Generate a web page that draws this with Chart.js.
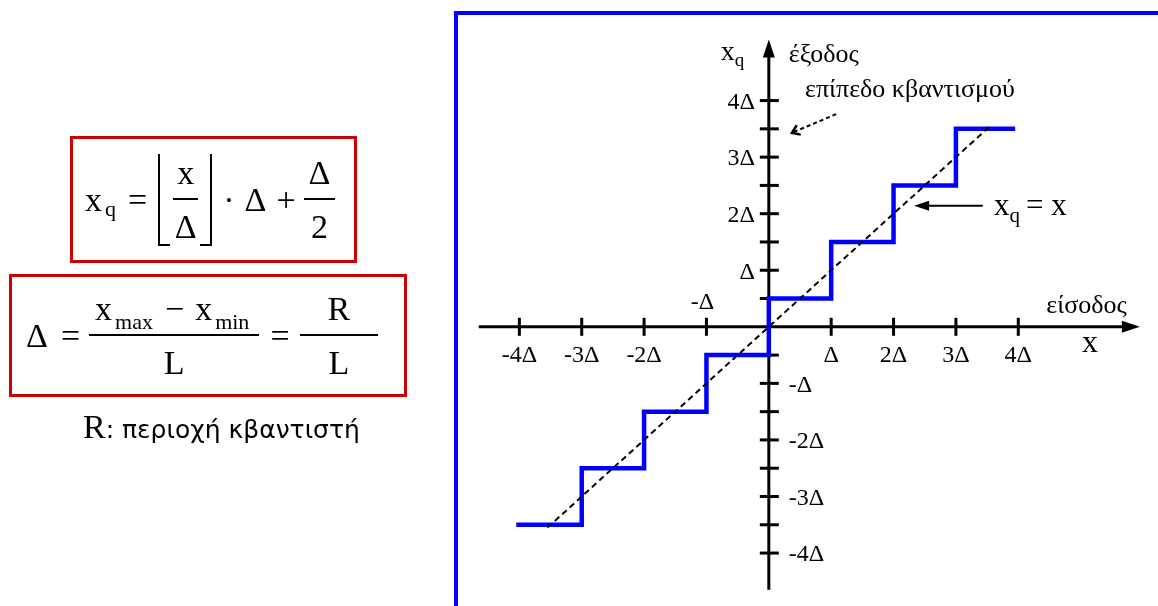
<!DOCTYPE html>
<html>
<head>
<meta charset="utf-8">
<script src="https://cdn.jsdelivr.net/npm/chart.js@4.4.0/dist/chart.umd.min.js"></script>
<style>
  html, body { margin: 0; padding: 0; background: #fff; }
  body { width: 1158px; height: 606px; position: relative; overflow: hidden; }
  #plot { position: absolute; left: 0; top: 0; }
  #frame { position: absolute; left: 454px; top: 11px; width: 720px; height: 620px;
           border-top: 4px solid #0000ff; border-left: 4px solid #0000ff; box-sizing: border-box; }
  .box { position: absolute; border: 3px solid #cc0000; display: flex; align-items: center;
         justify-content: flex-start; font-family: "Liberation Serif", serif; font-size: 34px; color: #000; }
  .math { display: flex; align-items: center; line-height: 1; white-space: nowrap; }
  .sub { font-size: 22px; position: relative; top: 9px; margin-left: 3px; }
  .frac { display: inline-flex; flex-direction: column; align-items: stretch; line-height: 1; }
  .frac > span { text-align: center; }
  .frac > .num { border-bottom: 2px solid #000; padding-bottom: 8px; }
  .frac > .den { padding-top: 10px; }
  .floor { position: relative; display: inline-flex; padding: 2px 12px 2px 13px;
           border-left: 2px solid #000; border-right: 2px solid #000; }
  .floor::before, .floor::after { content: ""; position: absolute; bottom: 0; width: 10px; height: 2px; background: #000; }
  .floor::before { left: 0; }
  .floor::after { right: 0; }
  #note { position: absolute; left: 83px; top: 408px; font-family: "DejaVu Sans", sans-serif; font-size: 25px; white-space: nowrap; }
  #note .r { font-family: "Liberation Serif", serif; font-size: 34px; }
</style>
</head>
<body>
<canvas id="plot" width="1158" height="606"></canvas>
<div id="frame"></div>

<div class="box" style="left:70px;top:136px;width:281px;height:121px;padding-left:12px;box-sizing:content-box;width:269px;">
  <div class="math">
    <span>x</span><span class="sub">q</span>
    <span style="margin-left:12px">=</span>
    <span class="floor" style="margin-left:11px"><span class="frac"><span class="num" style="padding-left:4px;padding-right:4px">x</span><span class="den">Δ</span></span></span>
    <span style="margin-left:11px">·</span>
    <span style="margin-left:10px">Δ</span>
    <span style="margin-left:10px">+</span>
    <span class="frac" style="margin-left:8px"><span class="num" style="padding-left:5px;padding-right:5px">Δ</span><span class="den">2</span></span>
  </div>
</div>

<div class="box" style="left:9px;top:274px;height:117px;padding-left:14px;box-sizing:content-box;width:378px;">
  <div class="math">
    <span>Δ</span>
    <span style="margin-left:13px">=</span>
    <span class="frac" style="margin-left:9px">
      <span class="num" style="padding-left:6px;padding-right:10px">x<span class="sub">max</span><span style="margin-left:12px">−</span><span style="margin-left:11px">x</span><span class="sub">min</span></span>
      <span class="den">L</span>
    </span>
    <span style="margin-left:11px">=</span>
    <span class="frac" style="margin-left:10px"><span class="num" style="padding-left:28px;padding-right:28px">R</span><span class="den">L</span></span>
  </div>
</div>

<div id="note"><span class="r">R</span>: περιοχή κβαντιστή</div>

<script>
"use strict";

// quantizer staircase: x_q = floor(x / Δ) * Δ + Δ / 2   (values in units of Δ)
const stairX = [-4.05, -3, -2, -1, 0, 1, 2, 3, 3.95];
const stairY = [-3.5, -2.5, -1.5, -0.5, 0.5, 1.5, 2.5, 3.5, 3.5];

// ideal line x_q = x
const identX = [-3.55, 3.55];
const identY = [-3.55, 3.55];

// axis ticks
const xTicks = [-4, -3, -2, -1, 1, 2, 3, 4];
const xTickLabels = ['-4Δ', '-3Δ', '-2Δ', '-Δ', 'Δ', '2Δ', '3Δ', '4Δ'];
const yTicks = [-4, -3.5, -3, -2.5, -2, -1.5, -1, -0.5, 0.5, 1, 1.5, 2, 2.5, 3, 3.5, 4];
const yLabelValues = [-4, -3, -2, -1, 1, 2, 3, 4];
const yTickLabels = ['-4Δ', '-3Δ', '-2Δ', '-Δ', 'Δ', '2Δ', '3Δ', '4Δ'];

const toPoints = (xs, ys) => xs.map((v, i) => ({ x: v, y: ys[i] }));

const serif = size => size + 'px "Liberation Serif", "Times New Roman", serif';

const arrowHead = (ctx, tx, ty, angle, len, half) => {
    ctx.save();
    ctx.translate(tx, ty);
    ctx.rotate(angle);
    ctx.beginPath();
    ctx.moveTo(0, 0);
    ctx.lineTo(-len, -half);
    ctx.lineTo(-len, half);
    ctx.closePath();
    ctx.fill();
    ctx.restore();
};

const line = (ctx, x1, y1, x2, y2) => {
    ctx.beginPath();
    ctx.moveTo(x1, y1);
    ctx.lineTo(x2, y2);
    ctx.stroke();
};

// x with subscript q
const drawXq = (ctx, left, baseline, size) => {
    ctx.textAlign = 'left';
    ctx.textBaseline = 'alphabetic';
    ctx.font = serif(size);
    ctx.fillText('x', left, baseline);
    const w = ctx.measureText('x').width;
    ctx.font = serif(Math.round(size * 0.68));
    ctx.fillText('q', left + w, baseline + size * 0.22);
    return w + ctx.measureText('q').width;
};

const axesPlugin = {
    id: 'axesPlugin',
    beforeDatasetsDraw(chart) {
        const { ctx, scales } = chart;
        const X = v => scales.x.getPixelForValue(v);
        const Y = v => scales.y.getPixelForValue(v);
        const ox = X(0), oy = Y(0);

        ctx.save();
        ctx.strokeStyle = '#000';
        ctx.fillStyle = '#000';
        ctx.lineWidth = 3;

        // axis lines with arrows
        line(ctx, X(-4.65), oy, X(5.95) - 12, oy);
        arrowHead(ctx, X(5.95), oy, 0, 18, 6);
        line(ctx, ox, Y(-4.65), ox, Y(5.08) + 12);
        arrowHead(ctx, ox, Y(5.08), -Math.PI / 2, 18, 6);

        // tick marks
        xTicks.forEach(v => line(ctx, X(v), oy - 9, X(v), oy + 9));
        yTicks.forEach(v => line(ctx, ox - 9, Y(v), ox + 10, Y(v)));

        // tick labels
        ctx.font = serif(24);
        ctx.textBaseline = 'middle';
        xTicks.forEach((v, i) => {
            ctx.textAlign = 'center';
            const up = v === -1;
            ctx.fillText(xTickLabels[i], X(v) - (up ? 4 : 0), up ? oy - 24 : oy + 29);
        });
        yLabelValues.forEach((v, i) => {
            if (v > 0) {
                ctx.textAlign = 'right';
                ctx.fillText(yTickLabels[i], ox - 14, Y(v) + 2);
            } else {
                ctx.textAlign = 'left';
                ctx.fillText(yTickLabels[i], ox + 20, Y(v) + 2);
            }
        });
        ctx.restore();
    },
    afterDatasetsDraw(chart) {
        const { ctx, scales } = chart;
        const X = v => scales.x.getPixelForValue(v);
        const Y = v => scales.y.getPixelForValue(v);
        const ox = X(0), oy = Y(0);

        ctx.save();
        ctx.fillStyle = '#000';
        ctx.strokeStyle = '#000';

        // axis titles
        drawXq(ctx, ox - 48, Y(4.72), 28);
        ctx.font = serif(26);
        ctx.textAlign = 'left';
        ctx.fillText('έξοδος', ox + 20, Y(4.68));
        ctx.fillText('είσοδος', X(4.45), oy - 14);
        ctx.font = serif(32);
        ctx.fillText('x', X(5.02), oy + 25);

        // quantization level annotation (dashed arrow, open head)
        ctx.font = serif(26);
        ctx.fillText('επίπεδο κβαντισμού', X(0.58), Y(4.06));
        ctx.lineWidth = 2;
        ctx.setLineDash([4, 3]);
        const ax1 = X(1.08), ay1 = Y(3.76), ax2 = X(0.37), ay2 = Y(3.43);
        line(ctx, ax1, ay1, ax2, ay2);
        ctx.setLineDash([]);
        ctx.lineWidth = 2.5;
        const ang = Math.atan2(ay2 - ay1, ax2 - ax1);
        ctx.beginPath();
        ctx.moveTo(ax2 - 9 * Math.cos(ang - 0.6), ay2 - 9 * Math.sin(ang - 0.6));
        ctx.lineTo(ax2, ay2);
        ctx.lineTo(ax2 - 9 * Math.cos(ang + 0.6), ay2 - 9 * Math.sin(ang + 0.6));
        ctx.stroke();

        // x_q = x annotation
        ctx.lineWidth = 2;
        const ly = Y(2.14);
        line(ctx, X(3.43), ly, X(2.33) + 12, ly);
        arrowHead(ctx, X(2.33), ly, Math.PI, 15, 5);
        const w = drawXq(ctx, X(3.61), ly + 9, 31);
        ctx.font = serif(31);
        ctx.fillText('= x', X(3.61) + w + 6, ly + 9);

        ctx.restore();
    }
};

new Chart(document.getElementById('plot'), {
    type: 'scatter',
    data: {
        datasets: [
            {
                label: 'x_q = x',
                data: toPoints(identX, identY),
                showLine: true,
                borderColor: '#000',
                borderWidth: 2,
                borderDash: [6, 4],
                pointRadius: 0
            },
            {
                label: 'x_q',
                data: toPoints(stairX, stairY),
                showLine: true,
                stepped: true,
                borderColor: '#0000ff',
                borderWidth: 4.5,
                pointRadius: 0
            }
        ]
    },
    options: {
        responsive: false,
        animation: false,
        devicePixelRatio: 1,
        layout: { padding: { left: 457, right: 15, top: 44, bottom: 19 } },
        plugins: { legend: { display: false }, tooltip: { enabled: false } },
        scales: {
            x: { type: 'linear', min: -5, max: 6, display: false },
            y: { type: 'linear', min: -4.6, max: 5, display: false }
        }
    },
    plugins: [axesPlugin]
});
</script>
</body>
</html>
